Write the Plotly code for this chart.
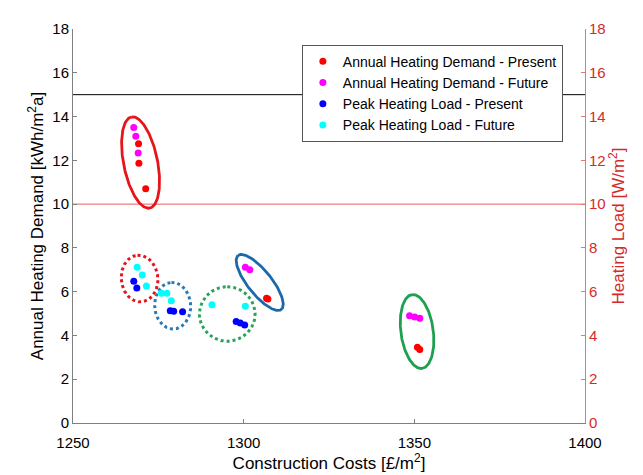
import numpy as np
import plotly.graph_objects as go

# ---------------- data ----------------
ahd_present_x = [1269.2, 1269.3, 1271.3, 1306.7, 1307.1, 1350.9, 1351.6]
ahd_present_y = [12.76, 11.87, 10.7, 5.70, 5.66, 3.46, 3.36]

ahd_future_x = [1267.8, 1268.4, 1269.1, 1300.5, 1301.8, 1348.6, 1350.1, 1351.6]
ahd_future_y = [13.5, 13.1, 12.33, 7.12, 7.0, 4.9, 4.84, 4.79]

phl_present_x = [1267.8, 1268.7, 1278.5, 1279.5, 1282.1, 1297.8, 1299.0, 1300.3]
phl_present_y = [6.48, 6.17, 5.13, 5.11, 5.08, 4.64, 4.57, 4.48]

phl_future_x = [1268.8, 1270.3, 1271.5, 1275.9, 1277.5, 1278.8, 1290.7, 1300.5]
phl_future_y = [7.12, 6.76, 6.26, 5.93, 5.93, 5.58, 5.4, 5.33]

series_names = ["Annual Heating Demand - Present", "Annual Heating Demand - Future",
                "Peak Heating Load - Present", "Peak Heating Load - Future"]
series_colors = ["#ff0000", "#ff00ff", "#0000ff", "#00ffff"]

limit_left = 15      # kWh/m2a
limit_right = 10     # W/m2

x_ticks = [1250, 1300, 1350, 1400]
y_ticks = [0, 2, 4, 6, 8, 10, 12, 14, 16, 18]

# grouping ellipses: centre (data), semi-axes (px), tilt (deg), colour, dash
ell_cx = [1269.8, 1269.5, 1279.2, 1295.2, 1304.7, 1350.8]
ell_cy = [11.9, 6.6, 5.36, 4.98, 6.42, 4.18]
ell_a = [47.4, 23.8, 23.8, 27.8, 35.0, 38.0]     # along tilted vertical
ell_b = [17.0, 18.3, 18.0, 27.8, 12.0, 16.2]
ell_tilt = [11.0, 5.0, 3.0, 0.0, 38.0, 7.5]      # top leaning left
ell_color = ["#e8141c", "#e8141c", "#2a7ab8", "#27a35a", "#1a6aab", "#1ea050"]
ell_dash = ["solid", "dot", "dot", "dot", "solid", "solid"]

# ---------------- layout geometry ----------------
W, H = 643, 475
ML, MR, MT, MB = 65, 66, 13, 60
xr = [1250, 1400]
yr = [0, 18]
px_x = (W - ML - MR) / (xr[1] - xr[0])
px_y = (H - MT - MB) / (yr[1] - yr[0])

fig = go.Figure()

xs = [ahd_present_x, ahd_future_x, phl_present_x, phl_future_x]
ys = [ahd_present_y, ahd_future_y, phl_present_y, phl_future_y]
axes = ["y", "y", "y2", "y2"]
for n, c, x, y, ya in zip(series_names, series_colors, xs, ys, axes):
    fig.add_trace(go.Scatter(x=x, y=y, mode="markers", name=n, yaxis=ya,
                             marker=dict(color=c, size=7, line=dict(width=0))))

t = np.linspace(0, 2 * np.pi, 200)
for cx, cy, a, b, tilt, col, dash in zip(ell_cx, ell_cy, ell_a, ell_b, ell_tilt, ell_color, ell_dash):
    th = np.radians(tilt)
    ux, uy = -np.sin(th), np.cos(th)
    vx, vy = np.cos(th), np.sin(th)
    dx = a * np.cos(t) * ux + b * np.sin(t) * vx
    dy = a * np.cos(t) * uy + b * np.sin(t) * vy
    fig.add_trace(go.Scatter(x=cx + dx / px_x, y=cy + dy / px_y, mode="lines",
                             showlegend=False, hoverinfo="skip",
                             line=dict(color=col, width=2.8 if dash == "solid" else 3, dash=dash)))

fig.add_shape(type="line", xref="paper", x0=0, x1=1, yref="y", y0=limit_left, y1=limit_left,
              line=dict(color="#000000", width=1), layer="below")
fig.add_shape(type="line", xref="paper", x0=0, x1=1, yref="y2", y0=limit_right, y1=limit_right,
              line=dict(color="#ec5a60", width=1), layer="below")

font = "Liberation Sans, Arial, sans-serif"
red = "#d42a2a"
fig.update_layout(
    width=W, height=H,
    margin=dict(l=ML, r=MR, t=MT, b=MB),
    paper_bgcolor="white", plot_bgcolor="white",
    font=dict(family=font, size=15, color="#000000"),
    showlegend=True,
    legend=dict(x=0.447, y=0.96, xanchor="left", yanchor="top",
                bgcolor="white", bordercolor="#555555", borderwidth=1,
                font=dict(size=14, family=font), itemwidth=30,
                tracegroupgap=0),
    xaxis=dict(range=xr, tickvals=x_ticks, ticks="inside", ticklen=4,
               tickcolor="#808080", showline=True, linecolor="#808080", linewidth=1,
               showgrid=False, zeroline=False, mirror=False, ticklabelstandoff=6,
               tickfont=dict(size=15),
               title=dict(text="Construction Costs [£/m<sup>2</sup>]", font=dict(size=17), standoff=4)),
    yaxis=dict(range=yr, tickvals=y_ticks, ticks="inside", ticklen=4,
               tickcolor="#808080", showline=True, linecolor="#808080", linewidth=1,
               showgrid=False, zeroline=False, tickfont=dict(size=15),
               title=dict(text="Annual Heating Demand [kWh/m<sup>2</sup>a]", font=dict(size=17), standoff=4)),
    yaxis2=dict(range=yr, tickvals=y_ticks, ticks="inside", ticklen=4, overlaying="y", side="right",
                tickcolor="#e07a7a", showline=True, linecolor="#e07a7a", linewidth=1,
                showgrid=False, zeroline=False, tickfont=dict(color=red, size=15),
                title=dict(text="Heating Load [W/m<sup>2</sup>]", font=dict(size=17, color=red), standoff=6)),
)

fig.write_html("out.html")
